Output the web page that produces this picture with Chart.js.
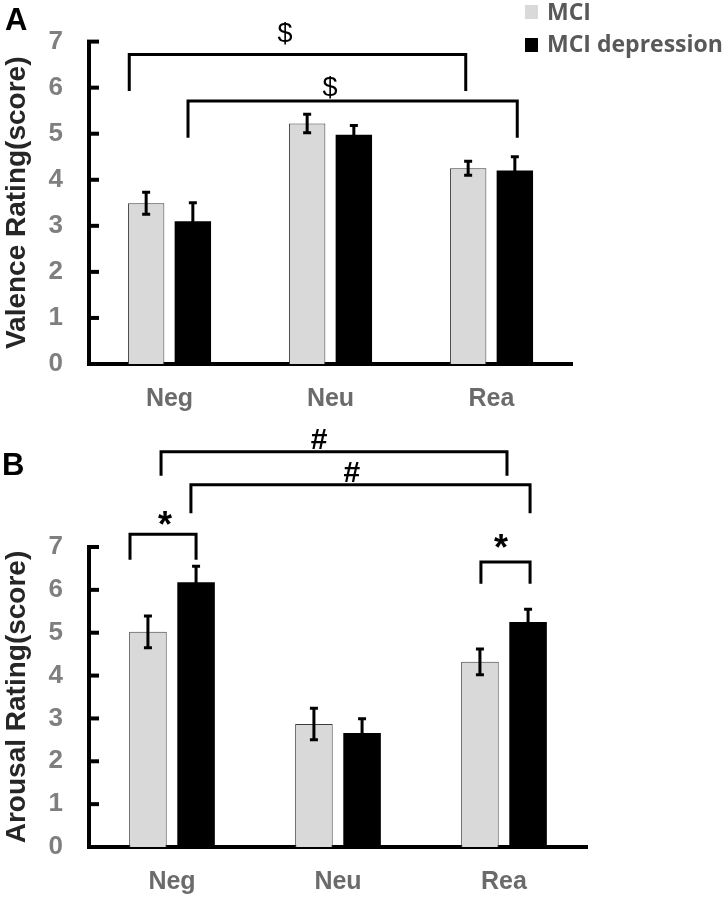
<!DOCTYPE html>
<html><head><meta charset="utf-8">
<script src="https://cdn.jsdelivr.net/npm/chart.js@4.4.1/dist/chart.umd.min.js"></script>
<style>
html,body{margin:0;padding:0;background:#fff;width:728px;height:898px;overflow:hidden;}
.panel{position:absolute;left:0;width:728px;}
#pa{top:0;height:420px;} #pb{top:420px;height:478px;}
canvas{display:block;}
.lbl{position:absolute;font-family:"Liberation Sans",Arial,sans-serif;font-weight:bold;font-size:31px;line-height:1;color:#000;}
.leg{position:absolute;font-family:"Open Sans",sans-serif;font-weight:bold;font-size:23px;line-height:1;color:#595959;white-space:nowrap;}
.sw{position:absolute;width:13px;height:14px;}
</style></head><body>
<div class="panel" id="pa"><canvas id="ca" width="728" height="420" style="width:728px;height:420px"></canvas></div>
<div class="panel" id="pb"><canvas id="cb" width="728" height="478" style="width:728px;height:478px"></canvas></div>
<div class="lbl" style="left:5px;top:4px">A</div>
<div class="lbl" style="left:2px;top:449px">B</div>
<div class="sw" style="left:525px;top:5px;background:#d9d9d9"></div>
<div class="leg" style="left:547px;top:0px">MCI</div>
<div class="sw" style="left:525px;top:38px;background:#000"></div>
<div class="leg" style="left:547px;top:32px">MCI depression</div>
<script>
const categories = ['Neg', 'Neu', 'Rea'];
const seriesNames = ['MCI', 'MCI depression'];
const yTicks = [0, 1, 2, 3, 4, 5, 6, 7];

const valenceMCI = [3.49, 5.22, 4.25];
const valenceMCIErr = [0.24, 0.20, 0.15];
const valenceDep = [3.10, 4.98, 4.20];
const valenceDepErr = [0.40, 0.20, 0.30];

const arousalMCI = [5.02, 2.87, 4.32];
const arousalMCIErr = [0.37, 0.37, 0.30];
const arousalDep = [6.18, 2.66, 5.25];
const arousalDepErr = [0.37, 0.33, 0.30];

// significance brackets: [xStart, xEnd, yTop, yLeftEnd, yRightEnd] in category / score units
const valenceBrackets = [[-0.25, 1.84, 6.72, 5.93, 5.93], [0.115, 2.16, 5.71, 4.91, 4.91]];
const valenceMarks = [['$', 0.717, 7.18], ['$', 0.997, 6.01]];
const arousalBrackets = [[-0.066, 2.018, 9.22, 8.66, 8.66], [0.114, 2.157, 8.45, 7.79, 7.79],
                         [-0.253, 0.145, 7.30, 6.70, 6.70], [1.861, 2.157, 6.65, 6.14, 6.14]];
const arousalMarks = [['#', 0.886, 9.52], ['#', 1.084, 8.75], ['*', -0.042, 7.68], ['*', 1.982, 7.14]];

const FONT = '"Liberation Sans", Arial, sans-serif';

const tickPlugin = {
  id: 'inTicks',
  afterDraw(chart) {
    const y = chart.scales.y, ctx = chart.ctx, L = chart.chartArea.left;
    ctx.save(); ctx.strokeStyle = '#000'; ctx.lineWidth = 4;
    y.ticks.forEach((t, i) => {
      const py = y.getPixelForTick(i);
      ctx.beginPath(); ctx.moveTo(L - 2, py); ctx.lineTo(L + 10, py); ctx.stroke();
    });
    ctx.restore();
  }
};

const errPlugin = {
  id: 'errBars',
  afterDatasetsDraw(chart) {
    const ctx = chart.ctx, ys = chart.scales.y;
    ctx.save(); ctx.strokeStyle = '#000'; ctx.lineWidth = 3;
    chart.data.datasets.forEach((ds, di) => {
      const meta = chart.getDatasetMeta(di);
      meta.data.forEach((bar, i) => {
        const v = ds.data[i], e = ds.errors[i];
        const x = bar.x, y1 = ys.getPixelForValue(v + e), y2 = ys.getPixelForValue(v - e);
        ctx.beginPath();
        ctx.moveTo(x, y1); ctx.lineTo(x, y2);
        ctx.moveTo(x - 4, y1); ctx.lineTo(x + 4, y1);
        ctx.moveTo(x - 4, y2); ctx.lineTo(x + 4, y2);
        ctx.stroke();
      });
    });
    ctx.restore();
  }
};

const markFonts = { '$': '27px ' + FONT, '#': 'bold 30px ' + FONT, '*': 'bold 36px ' + FONT };

const bracketPlugin = {
  id: 'brackets',
  afterDraw(chart, args, opts) {
    const ctx = chart.ctx, xs = chart.scales.x, ys = chart.scales.y;
    ctx.save(); ctx.strokeStyle = '#000'; ctx.lineWidth = 3; ctx.lineJoin = 'miter';
    (opts.brackets || []).forEach(b => {
      const x1 = xs.getPixelForValue(b[0]), x2 = xs.getPixelForValue(b[1]);
      const yt = ys.getPixelForValue(b[2]), yl = ys.getPixelForValue(b[3]), yr = ys.getPixelForValue(b[4]);
      ctx.beginPath(); ctx.moveTo(x1, yl); ctx.lineTo(x1, yt); ctx.lineTo(x2, yt); ctx.lineTo(x2, yr); ctx.stroke();
    });
    ctx.fillStyle = '#000'; ctx.textAlign = 'center'; ctx.textBaseline = 'alphabetic';
    (opts.marks || []).forEach(m => {
      ctx.font = markFonts[m[0]];
      const mt = ctx.measureText(m[0]);
      const cx = xs.getPixelForValue(m[1]), cy = ys.getPixelForValue(m[2]);
      const base = cy + (mt.actualBoundingBoxAscent - mt.actualBoundingBoxDescent) / 2;
      ctx.fillText(m[0], cx, base);
    });
    ctx.restore();
  }
};

function makeChart(id, mci, mciErr, dep, depErr, title, brackets, marks, xH, padRight, padTop) {
  return new Chart(document.getElementById(id), {
    type: 'bar',
    data: {
      labels: categories,
      datasets: [
        { label: seriesNames[0], data: mci, errors: mciErr, backgroundColor: '#d9d9d9', borderColor: '#3c3c3c',
          borderWidth: 1, categoryPercentage: 0.58, barPercentage: 0.78 },
        { label: seriesNames[1], data: dep, errors: depErr, backgroundColor: '#000', borderColor: '#000',
          borderWidth: 0, categoryPercentage: 0.58, barPercentage: 0.78 }
      ]
    },
    options: {
      responsive: false, animation: false, devicePixelRatio: 1,
      layout: { padding: { left: 0, right: padRight, top: padTop, bottom: 0 } },
      plugins: { legend: { display: false }, tooltip: { enabled: false }, brackets: { brackets, marks } },
      scales: {
        x: {
          grid: { display: false, drawTicks: false },
          border: { display: true, color: '#000', width: 4 },
          ticks: { color: '#6b6b6b', font: { family: FONT, weight: 'bold', size: 25 }, padding: 20 },
          afterFit(s) { s.height = xH; }
        },
        y: {
          min: 0, max: 7,
          afterBuildTicks(s) { s.ticks = yTicks.map(v => ({ value: v })); },
          grid: { display: false, drawTicks: false },
          border: { display: true, color: '#000', width: 4 },
          ticks: { color: '#7f7f7f', font: { family: FONT, weight: 'bold', size: 26 }, padding: 26 },
          title: { display: true, text: title, color: '#262626', font: { family: FONT, weight: 'bold', size: 28 },
                   padding: { top: 0, bottom: 0 } },
          afterFit(s) { s.width = 89; }
        }
      }
    },
    plugins: [tickPlugin, errPlugin, bracketPlugin]
  });
}

makeChart('ca', valenceMCI, valenceMCIErr, valenceDep, valenceDepErr, 'Valence Rating(score)',
          valenceBrackets, valenceMarks, 56, 156, 39);
makeChart('cb', arousalMCI, arousalMCIErr, arousalDep, arousalDepErr, 'Arousal Rating(score)',
          arousalBrackets, arousalMarks, 51, 141, 127);
</script>
</body></html>
